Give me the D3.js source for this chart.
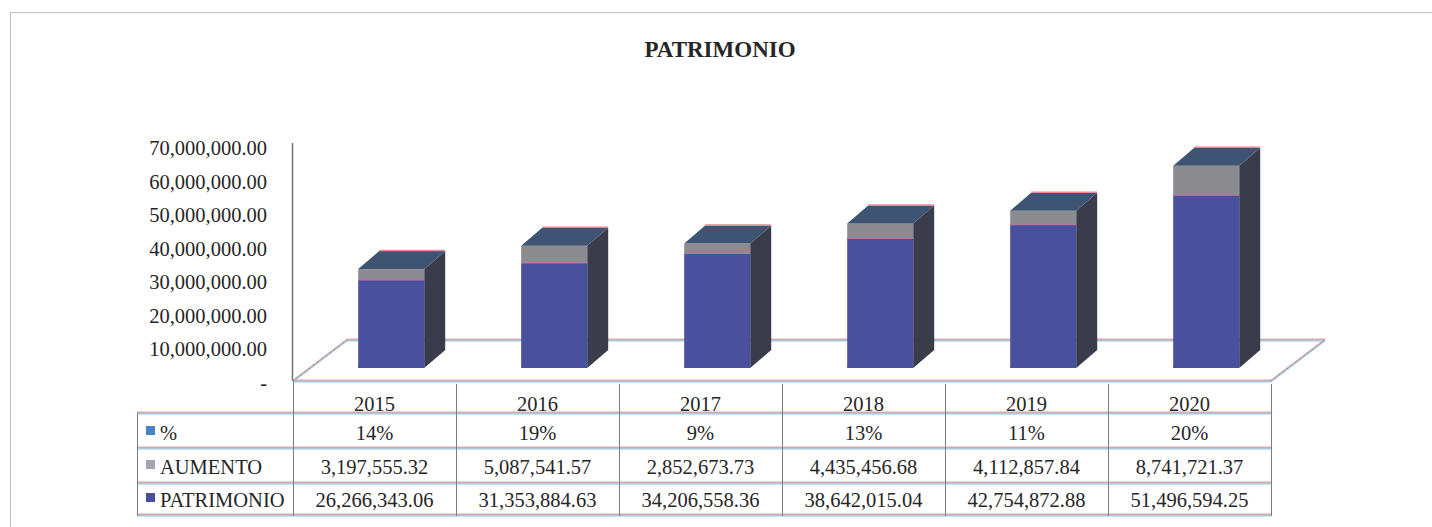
<!DOCTYPE html>
<html>
<head>
<meta charset="utf-8">
<script src="https://cdn.jsdelivr.net/npm/d3@7"></script>
<style>
  body { margin: 0; background: #fff; }
  svg text { font-family: "Liberation Serif", serif; fill: #262626; }
</style>
</head>
<body>
<svg id="chart" width="1432" height="527"></svg>
<script>
// data
var years = ['2015', '2016', '2017', '2018', '2019', '2020'];
var pctLabels = ['14%', '19%', '9%', '13%', '11%', '20%'];
var pctValues = [0.14, 0.19, 0.09, 0.13, 0.11, 0.20];
var aumento = [3197555.32, 5087541.57, 2852673.73, 4435456.68, 4112857.84, 8741721.37];
var patrimonio = [26266343.06, 31353884.63, 34206558.36, 38642015.04, 42754872.88, 51496594.25];
var yTicks = [0, 10e6, 20e6, 30e6, 40e6, 50e6, 60e6, 70e6];

var colors = { pct: '#3a8fd2', patrimonio: '#4a4f9e', aumento: '#8c8c90' };
var sideColor = '#3a3c4b';
var topColor = '#3e5472';

var svg = d3.select('#chart');

// outer chart border
svg.append('rect')
  .attr('x', 10.5).attr('y', 12.5)
  .attr('width', 1500).attr('height', 600)
  .attr('fill', 'none')
  .attr('stroke', '#c4c0c0');

svg.append('text')
  .attr('x', 720).attr('y', 57)
  .attr('text-anchor', 'middle')
  .attr('font-size', 23)
  .attr('font-weight', 'bold')
  .text('PATRIMONIO');

var x = d3.scaleBand().domain(years).range([293, 1271]);
var y = d3.scaleLinear().domain([0, 70e6]).range([383, 148]);

// floor / bars sit deeper than the axis plane
var floorDx = 54, floorDy = -41;
var barDepthDy = -15;
var depthX = 21, depthY = -18;
var barW = 66;

// double-ish line like the scanned original (pink / grey / blue fringe)
function fringeLine(x1, y1, x2, y2) {
  var g = svg.append('g');
  g.append('line').attr('x1', x1).attr('y1', y1 - 1).attr('x2', x2).attr('y2', y2 - 1)
    .attr('stroke', '#eaa6a6').attr('stroke-width', 1);
  g.append('line').attr('x1', x1).attr('y1', y1).attr('x2', x2).attr('y2', y2)
    .attr('stroke', '#8f8f98').attr('stroke-width', 1);
  g.append('line').attr('x1', x1).attr('y1', y1 + 1).attr('x2', x2).attr('y2', y2 + 1)
    .attr('stroke', '#9cc6e4').attr('stroke-width', 1);
}

// floor
var x0 = x.range()[0], x1 = x.range()[1];
var fy = y(0) - 2;
svg.append('path')
  .attr('d', 'M' + x0 + ',' + fy + 'L' + (x0 + floorDx) + ',' + (fy + floorDy) +
    'L' + (x1 + floorDx) + ',' + (fy + floorDy) + 'L' + x1 + ',' + fy + 'Z')
  .attr('fill', '#fff');
fringeLine(x0 + floorDx, fy + floorDy, x1 + floorDx, fy + floorDy);
fringeLine(x0, fy, x0 + floorDx, fy + floorDy);
fringeLine(x1, fy, x1 + floorDx, fy + floorDy);

// value axis
var axis = d3.axisLeft(y)
  .tickValues(yTicks)
  .tickSize(0)
  .tickPadding(25)
  .tickFormat(function(d) { return d === 0 ? '-' : d3.format(',.2f')(d); });
var ag = svg.append('g').attr('transform', 'translate(292,0)').call(axis);
ag.select('.domain').remove();
ag.selectAll('text')
  .attr('font-size', 20.5)
  .attr('font-family', '"Liberation Serif", serif')
  .attr('fill', '#262626');
svg.append('line')
  .attr('x1', 292.5).attr('y1', 143).attr('x2', 292.5).attr('y2', 381)
  .attr('stroke', '#707078').attr('stroke-width', 1.5);

// stacked bars
var rows = years.map(function(yr, i) {
  return { year: yr, pct: pctValues[i], patrimonio: patrimonio[i], aumento: aumento[i] };
});
var keys = ['pct', 'patrimonio', 'aumento'];
var stacked = d3.stack().keys(keys)(rows);

function yb(v) { return y(v) + barDepthDy; }

var bars = svg.append('g').selectAll('g.bar')
  .data(rows)
  .enter()
  .append('g')
  .attr('class', 'bar');

bars.each(function(d, i) {
  var g = d3.select(this);
  var left = x(d.year) + x.bandwidth() * 0.4;
  var right = left + barW;
  var total = d.pct + d.patrimonio + d.aumento;
  var top = yb(total), base = yb(0);

  // side face
  g.append('path')
    .attr('d', 'M' + right + ',' + base + 'L' + (right + depthX) + ',' + (base + depthY) +
      'L' + (right + depthX) + ',' + (top + depthY) + 'L' + right + ',' + top + 'Z')
    .attr('fill', sideColor);

  // front faces
  keys.forEach(function(k, ki) {
    var seg = stacked[ki][i];
    var yTop = yb(seg[1]), yBot = yb(seg[0]);
    var h = yBot - yTop;
    if (k === 'pct') { h = 2; yTop = base - 2; }
    g.append('rect')
      .attr('x', left).attr('y', yTop)
      .attr('width', barW).attr('height', h)
      .attr('fill', colors[k]);
  });
  // seam between blue and grey
  var seam = yb(stacked[1][i][1]);
  g.append('line')
    .attr('x1', left).attr('x2', right).attr('y1', seam).attr('y2', seam)
    .attr('stroke', '#b07aa0').attr('stroke-width', 1.5);

  // top face
  g.append('path')
    .attr('d', 'M' + left + ',' + top + 'L' + (left + depthX) + ',' + (top + depthY) +
      'L' + (right + depthX) + ',' + (top + depthY) + 'L' + right + ',' + top + 'Z')
    .attr('fill', topColor);
  g.append('line')
    .attr('x1', left + depthX).attr('x2', right + depthX)
    .attr('y1', top + depthY - 0.5).attr('y2', top + depthY - 0.5)
    .attr('stroke', '#e48a9a').attr('stroke-width', 1.5);
});

// front edge of the floor (drawn over the bars' feet)
fringeLine(x0, fy, x1, fy);

// data table
var tableLeft = 137;
var rowLines = [413, 448, 483, 515];
var series = [
  { name: '%', color: '#4b82c4', values: pctLabels },
  { name: 'AUMENTO', color: '#a4a4ac', values: aumento.map(d3.format(',.2f')) },
  { name: 'PATRIMONIO', color: '#4a4c9c', values: patrimonio.map(d3.format(',.2f')) }
];
var baselines = [440, 474, 507];

rowLines.forEach(function(ly) {
  fringeLine(tableLeft, ly, x1, ly);
});
x.domain().forEach(function(yr) {
  svg.append('line')
    .attr('x1', x(yr) + 0.5).attr('x2', x(yr) + 0.5)
    .attr('y1', yr === years[0] ? fy : 384).attr('y2', 516)
    .attr('stroke', '#7c7c84');
});
[tableLeft, x1].forEach(function(lx) {
  svg.append('line')
    .attr('x1', lx + 0.5).attr('x2', lx + 0.5)
    .attr('y1', lx === tableLeft ? 413 : 384).attr('y2', 516)
    .attr('stroke', '#7c7c84');
});

svg.append('g').selectAll('text')
  .data(years)
  .enter()
  .append('text')
  .attr('x', function(d) { return x(d) + x.bandwidth() / 2; })
  .attr('y', 411)
  .attr('text-anchor', 'middle')
  .attr('font-size', 20.5)
  .text(function(d) { return d; });

series.forEach(function(s, si) {
  var by = baselines[si];
  svg.append('rect')
    .attr('x', 146).attr('y', by - 14)
    .attr('width', 9).attr('height', 9)
    .attr('fill', s.color);
  svg.append('text')
    .attr('x', 160).attr('y', by)
    .attr('font-size', 20.5)
    .text(s.name);
  svg.append('g').selectAll('text')
    .data(s.values)
    .enter()
    .append('text')
    .attr('x', function(d, i) { return x(years[i]) + x.bandwidth() / 2; })
    .attr('y', by)
    .attr('text-anchor', 'middle')
    .attr('font-size', 20.5)
    .text(function(d) { return d; });
});
</script>
</body>
</html>
